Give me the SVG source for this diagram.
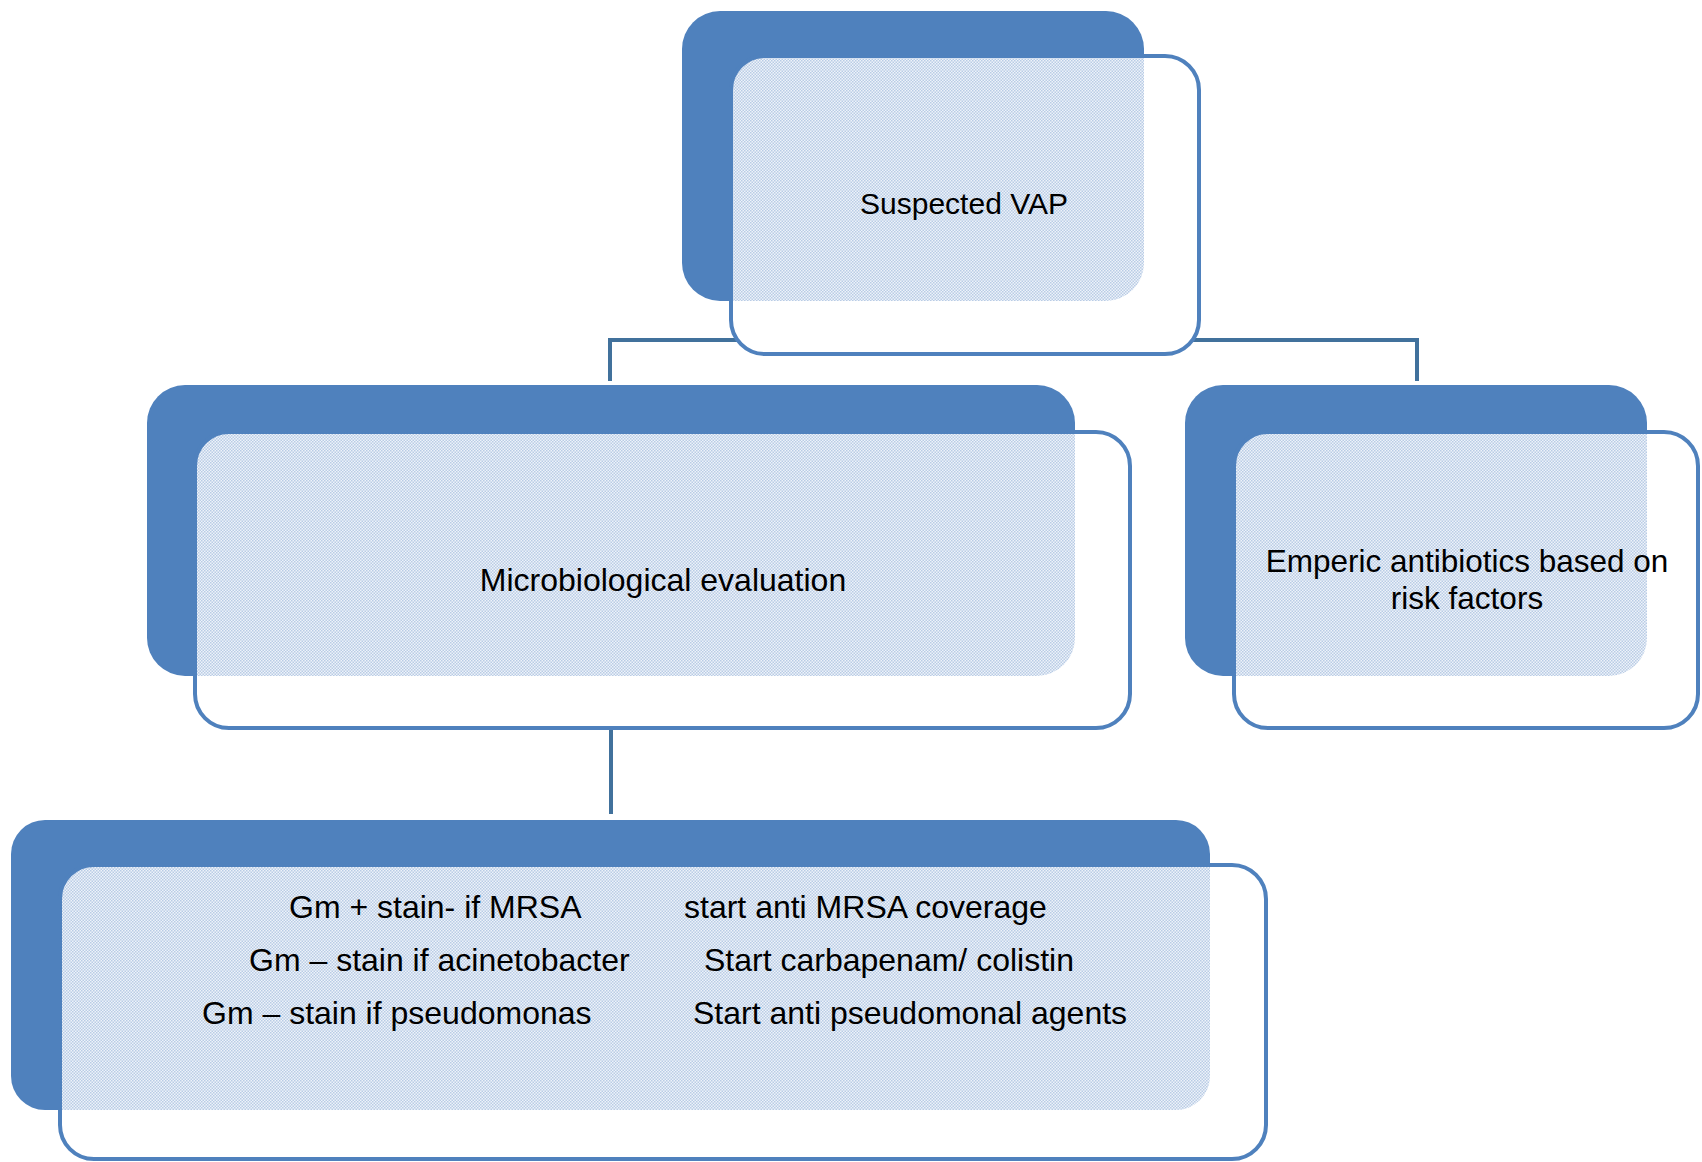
<svg xmlns="http://www.w3.org/2000/svg" width="1702" height="1162" viewBox="0 0 1702 1162">
<style>
.back{fill:#4f81bd}
.front{fill:#ffffff;stroke:none}
.frame{fill:none;stroke:#4f81bd;stroke-width:4}
.pat{fill:url(#dots);stroke:none}
.conn{fill:none;stroke:#41719c;stroke-width:4}
text{font-family:"Liberation Sans",Arial,sans-serif;font-size:32px;fill:#000}
.c{text-anchor:middle}
</style>
<defs>
<pattern id="dots" width="3" height="3" patternUnits="userSpaceOnUse">
<rect width="3" height="3" fill="#eef3fa"/>
<rect x="0" y="0" width="1.5" height="1.5" fill="#b9cce5"/>
<rect x="1.5" y="1.5" width="1.5" height="1.5" fill="#b9cce5"/>
</pattern>
<clipPath id="c1"><rect x="682" y="11" width="462" height="290" rx="38"/></clipPath>
<clipPath id="c2"><rect x="147" y="385" width="928" height="291" rx="38"/></clipPath>
<clipPath id="c3"><rect x="1185" y="385" width="462" height="291" rx="38"/></clipPath>
<clipPath id="c4"><rect x="11" y="820" width="1199" height="290" rx="34"/></clipPath>
</defs>
<g id="connectors">
<path class="conn" d="M912 301 V340 M610 340 H1417 M610 338 V381 M1417 338 V381"/>
<path class="conn" d="M611 676 V814"/>
</g>
<g id="node-suspected-vap">
<rect class="back" x="682" y="11" width="462" height="290" rx="38"/>
<rect class="front" x="731" y="56" width="468" height="298" rx="34"/>
<rect class="pat" x="731" y="56" width="468" height="298" rx="34" clip-path="url(#c1)"/>
<rect class="frame" x="731" y="56" width="468" height="298" rx="34"/>
<text class="c" x="964" y="214" style="font-size:30px">Suspected VAP</text>
</g>
<g id="node-micro">
<rect class="back" x="147" y="385" width="928" height="291" rx="38"/>
<rect class="front" x="195" y="432" width="935" height="296" rx="34"/>
<rect class="pat" x="195" y="432" width="935" height="296" rx="34" clip-path="url(#c2)"/>
<rect class="frame" x="195" y="432" width="935" height="296" rx="34"/>
<text class="c" x="663" y="591">Microbiological evaluation</text>
</g>
<g id="node-emperic">
<rect class="back" x="1185" y="385" width="462" height="291" rx="38"/>
<rect class="front" x="1234" y="432" width="464" height="296" rx="34"/>
<rect class="pat" x="1234" y="432" width="464" height="296" rx="34" clip-path="url(#c3)"/>
<rect class="frame" x="1234" y="432" width="464" height="296" rx="34"/>
<text class="c" x="1467" y="572" style="font-size:31.5px">Emperic antibiotics based on</text>
<text class="c" x="1467" y="609" style="font-size:31.5px">risk factors</text>
</g>
<g id="node-stain">
<rect class="back" x="11" y="820" width="1199" height="290" rx="34"/>
<rect class="front" x="60" y="865" width="1206" height="294" rx="34"/>
<rect class="pat" x="60" y="865" width="1206" height="294" rx="34" clip-path="url(#c4)"/>
<rect class="frame" x="60" y="865" width="1206" height="294" rx="34"/>
<text x="289" y="918">Gm + stain- if MRSA</text>
<text x="249" y="971">Gm – stain if acinetobacter</text>
<text x="202" y="1024">Gm – stain if pseudomonas</text>
<text x="684" y="918">start anti MRSA coverage</text>
<text x="704" y="971">Start carbapenam/ colistin</text>
<text x="693" y="1024">Start anti pseudomonal agents</text>
</g>
</svg>
